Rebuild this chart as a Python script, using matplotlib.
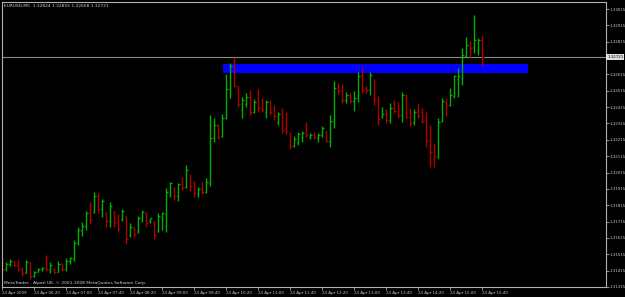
import matplotlib
matplotlib.use("Agg")
import matplotlib.pyplot as plt
from matplotlib.patches import Rectangle
import numpy as np

# ---------------- data (EURUSD M5, 24 Apr 2009) ----------------
opens = [1.31484, 1.31423, 1.31454, 1.31472, 1.31447, 1.31423, 1.31399, 1.31460, 1.31380, 1.31405,
         1.31417, 1.31472, 1.31417, 1.31423, 1.31405, 1.31454, 1.31423, 1.31472, 1.31484, 1.31582,
         1.31655, 1.31691, 1.31765, 1.31771, 1.31874, 1.31789, 1.31765, 1.31716, 1.31777, 1.31716,
         1.31728, 1.31752, 1.31630, 1.31673, 1.31655, 1.31728, 1.31765, 1.31716, 1.31716, 1.31655,
         1.31740, 1.31759, 1.31881, 1.31923, 1.31874, 1.31960, 1.31929, 1.31996, 1.31948, 1.31881,
         1.31923, 1.31899, 1.31954, 1.32228, 1.32308, 1.32240, 1.32350, 1.32533, 1.32667, 1.32545,
         1.32399, 1.32436, 1.32478, 1.32387, 1.32460, 1.32417, 1.32387, 1.32448, 1.32411, 1.32326,
         1.32387, 1.32289, 1.32259, 1.32179, 1.32204, 1.32234, 1.32271, 1.32234, 1.32253, 1.32228,
         1.32247, 1.32271, 1.32210, 1.32326, 1.32545, 1.32521, 1.32460, 1.32491, 1.32454, 1.32472,
         1.32613, 1.32533, 1.32521, 1.32582, 1.32460, 1.32356, 1.32387, 1.32338, 1.32411, 1.32411,
         1.32368, 1.32484, 1.32387, 1.32326, 1.32399, 1.32387, 1.32338, 1.32216, 1.32173, 1.32106,
         1.32332, 1.32448, 1.32430, 1.32484, 1.32588, 1.32594, 1.32728, 1.32802, 1.32783, 1.32765,
         1.32824]
highs = [1.31496, 1.31466, 1.31484, 1.31472, 1.31484, 1.31435, 1.31478, 1.31466, 1.31411, 1.31429,
         1.31435, 1.31508, 1.31466, 1.31429, 1.31472, 1.31460, 1.31490, 1.31496, 1.31600, 1.31679,
         1.31710, 1.31777, 1.31832, 1.31893, 1.31887, 1.31856, 1.31771, 1.31832, 1.31777, 1.31759,
         1.31795, 1.31752, 1.31704, 1.31679, 1.31752, 1.31783, 1.31771, 1.31740, 1.31716, 1.31765,
         1.31771, 1.31923, 1.31960, 1.31929, 1.31954, 1.31990, 1.32064, 1.32009, 1.31966, 1.31929,
         1.31960, 1.31984, 1.32369, 1.32350, 1.32314, 1.32375, 1.32619, 1.32686, 1.32722, 1.32545,
         1.32478, 1.32503, 1.32521, 1.32466, 1.32527, 1.32472, 1.32460, 1.32460, 1.32430, 1.32387,
         1.32411, 1.32387, 1.32265, 1.32240, 1.32265, 1.32271, 1.32326, 1.32259, 1.32265, 1.32259,
         1.32301, 1.32271, 1.32368, 1.32576, 1.32564, 1.32558, 1.32509, 1.32503, 1.32515, 1.32631,
         1.32661, 1.32545, 1.32631, 1.32588, 1.32484, 1.32417, 1.32405, 1.32442, 1.32460, 1.32448,
         1.32509, 1.32497, 1.32411, 1.32405, 1.32442, 1.32411, 1.32387, 1.32308, 1.32198, 1.32350,
         1.32472, 1.32472, 1.32533, 1.32613, 1.32655, 1.32777, 1.32844, 1.32820, 1.32979, 1.32838,
         1.32855]
lows = [1.31405, 1.31411, 1.31441, 1.31441, 1.31411, 1.31380, 1.31399, 1.31362, 1.31374, 1.31405,
        1.31411, 1.31411, 1.31399, 1.31393, 1.31405, 1.31411, 1.31411, 1.31454, 1.31472, 1.31569,
        1.31624, 1.31661, 1.31698, 1.31765, 1.31765, 1.31746, 1.31685, 1.31679, 1.31685, 1.31649,
        1.31716, 1.31576, 1.31618, 1.31618, 1.31643, 1.31710, 1.31685, 1.31704, 1.31606, 1.31649,
        1.31661, 1.31649, 1.31868, 1.31850, 1.31838, 1.31911, 1.31923, 1.31905, 1.31868, 1.31868,
        1.31881, 1.31887, 1.31935, 1.32204, 1.32222, 1.32234, 1.32344, 1.32472, 1.32539, 1.32417,
        1.32350, 1.32417, 1.32368, 1.32381, 1.32387, 1.32387, 1.32350, 1.32368, 1.32338, 1.32308,
        1.32259, 1.32253, 1.32161, 1.32173, 1.32186, 1.32204, 1.32234, 1.32222, 1.32222, 1.32204,
        1.32234, 1.32204, 1.32173, 1.32289, 1.32497, 1.32442, 1.32442, 1.32442, 1.32393, 1.32448,
        1.32503, 1.32503, 1.32491, 1.32430, 1.32308, 1.32350, 1.32320, 1.32320, 1.32381, 1.32350,
        1.32326, 1.32350, 1.32301, 1.32308, 1.32350, 1.32320, 1.32173, 1.32051, 1.32051, 1.32106,
        1.32326, 1.32362, 1.32423, 1.32472, 1.32478, 1.32552, 1.32722, 1.32716, 1.32747, 1.32735,
        1.32668]
closes = [1.31423, 1.31454, 1.31472, 1.31447, 1.31423, 1.31399, 1.31466, 1.31380, 1.31405, 1.31423,
          1.31429, 1.31423, 1.31447, 1.31405, 1.31454, 1.31423, 1.31472, 1.31490, 1.31582, 1.31661,
          1.31691, 1.31765, 1.31722, 1.31874, 1.31789, 1.31844, 1.31716, 1.31813, 1.31704, 1.31667,
          1.31777, 1.31606, 1.31685, 1.31637, 1.31740, 1.31771, 1.31704, 1.31734, 1.31630, 1.31752,
          1.31765, 1.31899, 1.31948, 1.31874, 1.31942, 1.31923, 1.32033, 1.31935, 1.31887, 1.31917,
          1.31899, 1.31960, 1.32228, 1.32308, 1.32234, 1.32350, 1.32527, 1.32667, 1.32545, 1.32436,
          1.32460, 1.32478, 1.32387, 1.32448, 1.32411, 1.32399, 1.32448, 1.32387, 1.32362, 1.32375,
          1.32277, 1.32271, 1.32179, 1.32222, 1.32253, 1.32259, 1.32247, 1.32247, 1.32234, 1.32247,
          1.32289, 1.32210, 1.32332, 1.32533, 1.32515, 1.32460, 1.32491, 1.32454, 1.32472, 1.32606,
          1.32521, 1.32521, 1.32613, 1.32460, 1.32344, 1.32375, 1.32338, 1.32411, 1.32393, 1.32368,
          1.32491, 1.32356, 1.32320, 1.32387, 1.32362, 1.32332, 1.32210, 1.32143, 1.32118, 1.32326,
          1.32454, 1.32430, 1.32491, 1.32606, 1.32606, 1.32735, 1.32796, 1.32777, 1.32826, 1.32826,
          1.32721]

time_labels = ["24 Apr 2009", "24 Apr 06:20", "24 Apr 07:00", "24 Apr 07:40", "24 Apr 08:20",
               "24 Apr 09:00", "24 Apr 09:40", "24 Apr 10:20", "24 Apr 11:00", "24 Apr 11:40",
               "24 Apr 12:20", "24 Apr 13:00", "24 Apr 13:40", "24 Apr 14:20", "24 Apr 15:00",
               "24 Apr 15:40"]
time_label_bars = [0, 8, 16, 24, 32, 40, 48, 56, 64, 72, 80, 88, 96, 104, 112, 120]
price_ticks = [1.33015, 1.32915, 1.32815, 1.32715, 1.32615, 1.32515, 1.32415, 1.32315, 1.32215,
               1.32115, 1.32015, 1.31915, 1.31815, 1.31715, 1.31615, 1.31515, 1.31415, 1.31315]
symbol = "EURUSD,M5"
current_price = 1.32721
zone_low, zone_high = 1.32625, 1.32680
zone_start, zone_end = 55.1, 131.3
footer = "MetaTrader - Alpari UK, \u00a9 2001-2008 MetaQuotes Software Corp."

# ---------------- drawing ----------------
W, H = 625, 297
fig = plt.figure(figsize=(W / 100, H / 100), dpi=100, facecolor="black")
ax = fig.add_axes([2 / W, 10 / H, 604 / W, 285 / H])
ax.set_facecolor("black")

UP, DOWN = "#00b000", "#b00000"
x = np.arange(len(opens))
o = np.array(opens); h = np.array(highs); l = np.array(lows); c = np.array(closes)
cols = [UP if cc >= oo else DOWN for oo, cc in zip(o, c)]

ax.add_patch(Rectangle((zone_start, zone_low), zone_end - zone_start, zone_high - zone_low,
                       facecolor="#0000ff", edgecolor="none", zorder=1))
ax.axhline(current_price, color="#8c8c8c", lw=0.8, zorder=1.5)

ax.vlines(x, l, h, colors=cols, lw=1.0, zorder=2)
ax.hlines(o, x - 0.45, x, colors=cols, lw=0.9, zorder=2)
ax.hlines(c, x, x + 0.45, colors=cols, lw=0.9, zorder=2)

ax.set_xlim(-0.1, 150.9)
ax.set_ylim(1.31319, 1.33058)

for s in ax.spines.values():
    s.set_color("#b0b0b0")
    s.set_linewidth(0.8)

# the label hidden behind the current-price box in the reference stays blank
ylabels = ["" if abs(p - current_price) < 0.0002 else f"{p:.5f}" for p in price_ticks]
ax.yaxis.tick_right()
ax.set_yticks(price_ticks)
ax.set_yticklabels(ylabels)
ax.set_xticks(time_label_bars)
ax.set_xticklabels(time_labels, ha="left")
ax.tick_params(axis="both", colors="#c8c8c8", labelsize=2.9, length=2, width=0.5, pad=0.6)

ytrans = ax.get_yaxis_transform()
ax.text(1.002, current_price, f"{current_price:.5f}", transform=ytrans, ha="left", va="center",
        fontsize=2.9, color="black", clip_on=False, zorder=5,
        bbox=dict(boxstyle="square,pad=0.2", facecolor="#e0e0e0", edgecolor="none"))

last = len(opens) - 1
ax.text(0.004, 0.992, f"{symbol}  {opens[last]:.5f} {highs[last]:.5f} {lows[last]:.5f} {closes[last]:.5f}",
        transform=ax.transAxes, ha="left", va="top", fontsize=3.2, color="#d0d0d0")
ax.text(0.004, 0.006, footer, transform=ax.transAxes, ha="left", va="bottom",
        fontsize=3.2, color="#d0d0d0")

fig.savefig("out.png", dpi=100, facecolor="black")
